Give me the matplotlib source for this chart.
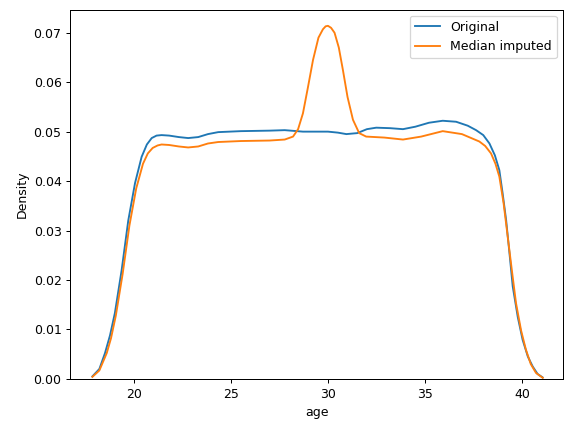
import matplotlib
matplotlib.use("Agg")
import matplotlib.pyplot as plt

orig_x = [17.84, 18.2, 18.49, 18.75, 19.0, 19.35, 19.69, 20.04, 20.38, 20.65, 20.9, 21.15, 21.41, 21.8, 22.3, 22.78, 23.3, 23.8, 24.33, 25.5, 26.98, 27.76, 28.7, 29.99, 30.5, 30.94, 31.5, 32.0, 32.48, 33.2, 33.86, 34.5, 35.2, 35.91, 36.6, 37.2, 37.63, 38.0, 38.32, 38.6, 38.83, 39.0, 39.18, 39.35, 39.52, 39.78, 40.03, 40.3, 40.55, 40.8, 41.06]
orig_y = [0.0005, 0.0020, 0.0052, 0.0088, 0.0133, 0.0220, 0.0320, 0.0396, 0.0449, 0.0474, 0.0487, 0.0492, 0.0493, 0.0492, 0.0489, 0.0487, 0.0489, 0.0495, 0.0499, 0.0501, 0.0502, 0.0503, 0.0500, 0.0500, 0.0498, 0.0495, 0.0497, 0.0505, 0.0508, 0.0507, 0.0505, 0.0510, 0.0518, 0.0522, 0.0520, 0.0512, 0.0503, 0.0493, 0.0476, 0.0452, 0.0422, 0.0375, 0.0321, 0.0255, 0.0187, 0.0125, 0.0079, 0.0045, 0.0025, 0.0010, 0.0003]

imp_x = [17.84, 18.2, 18.58, 18.8, 19.05, 19.4, 19.75, 20.1, 20.45, 20.7, 20.95, 21.2, 21.41, 21.8, 22.3, 22.78, 23.3, 23.8, 24.33, 25.5, 26.98, 27.76, 28.19, 28.45, 28.7, 28.95, 29.22, 29.5, 29.73, 29.87, 29.99, 30.15, 30.33, 30.55, 30.76, 31.0, 31.28, 31.6, 31.96, 32.9, 33.86, 34.8, 35.91, 36.9, 37.8, 38.1, 38.4, 38.63, 38.83, 39.05, 39.26, 39.48, 39.69, 39.95, 40.2, 40.45, 40.72, 41.07]
imp_y = [0.0004, 0.0017, 0.0052, 0.0082, 0.0128, 0.0212, 0.0310, 0.0385, 0.0435, 0.0456, 0.0467, 0.0472, 0.0474, 0.0473, 0.0470, 0.0468, 0.0470, 0.0476, 0.0479, 0.0481, 0.0482, 0.0484, 0.0490, 0.0505, 0.0537, 0.0588, 0.0645, 0.0690, 0.0707, 0.0713, 0.0714, 0.0710, 0.0700, 0.0670, 0.0625, 0.0570, 0.0524, 0.0497, 0.0490, 0.0488, 0.0484, 0.0490, 0.0501, 0.0495, 0.0480, 0.0471, 0.0456, 0.0435, 0.0409, 0.0355, 0.0288, 0.0218, 0.0153, 0.0098, 0.0059, 0.0030, 0.0012, 0.0002]

fig, ax = plt.subplots(figsize=(6.4, 4.8), dpi=90)
fig.subplots_adjust(left=0.122, right=0.977, top=0.978, bottom=0.123)
ax.plot(orig_x, orig_y, color="#1f77b4", label="Original")
ax.plot(imp_x, imp_y, color="#ff7f0e", label="Median imputed")
ax.set_ylim(0, 0.0747)
ax.set_xlim(16.7, 42.1)
ax.set_xlabel("age")
ax.set_ylabel("Density")
ax.legend(loc="upper right")
fig.savefig("out.png", dpi=90)
